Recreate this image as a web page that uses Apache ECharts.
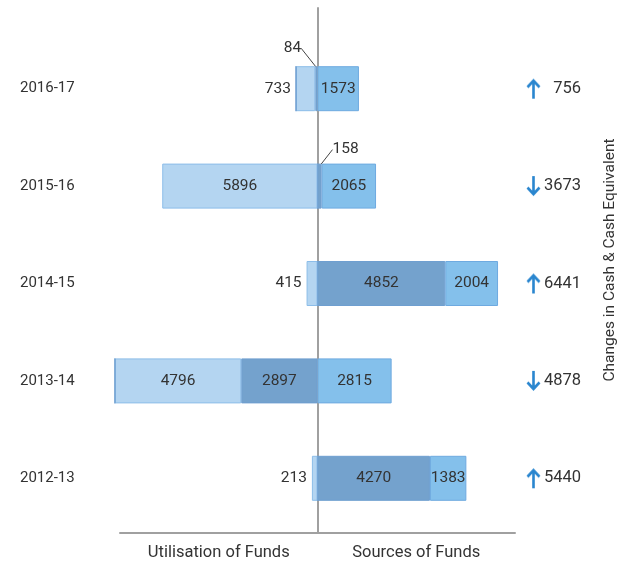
<!DOCTYPE html>
<html>
<head>
<meta charset="utf-8">
<script src="https://cdn.jsdelivr.net/npm/echarts@6/dist/echarts.min.js"></script>
<style>
  html, body { margin: 0; padding: 0; background: #fff; }
  #chart { width: 633px; height: 567px; }
</style>
</head>
<body>
<div id="chart"></div>
<script>
const years = ['2016-17', '2015-16', '2014-15', '2013-14', '2012-13']
// utilisation side (drawn to the left of the axis)
const utilInner = [84, 0, 0, 2897, 0]
const utilOuter = [733, 5896, 415, 4796, 213]
// sources side (drawn to the right)
const sourceInner = [0, 158, 4852, 0, 4270]
const sourceOuter = [1573, 2065, 2004, 2815, 1383]
const cashChange = [756, -3673, 6441, -4878, 5440]
const sideLabels = ['Utilisation of Funds', 'Sources of Funds']
const axisMax = 7500

const FONT = 'Roboto, sans-serif'
const TEXT = '#333'
const ARROW = '#2a86cf'
const LIGHT = { color: '#b4d5f1', borderColor: '#8cbde9', borderWidth: 1 }
const MEDIUM = { color: '#84c0eb', borderColor: '#6eaae0', borderWidth: 1 }
const DARK = { color: '#74a2cd', borderColor: '#6f9fd0', borderWidth: 1 }

// small stroked arrow used inside the right-hand labels
const makeArrow = (up) => {
  const c = document.createElement('canvas')
  c.width = 15
  c.height = 20
  const ctx = c.getContext('2d')
  if (!up) { ctx.translate(0, 20); ctx.scale(1, -1) }
  ctx.strokeStyle = ARROW
  ctx.lineWidth = 2.6
  ctx.beginPath()
  ctx.moveTo(7.5, 2)
  ctx.lineTo(7.5, 20)
  ctx.moveTo(1.5, 8.5)
  ctx.lineTo(7.5, 2)
  ctx.lineTo(13.5, 8.5)
  ctx.stroke()
  return c
}

// label placement depends on how wide the segment is
const toItems = (values, sign) => values.map(v => {
  const item = { value: sign * v }
  if (v === 0) {
    item.label = { show: false }
  } else if (v < 200) {
    item.label = { show: true, position: 'top', distance: 4 }
    item.labelLine = { show: true, lineStyle: { color: '#444', width: 1 } }
  } else if (v < 1000) {
    item.label = { show: true, position: sign < 0 ? 'left' : 'right', distance: 5 }
  }
  return item
})

const barLabel = {
  show: true,
  position: 'inside',
  color: TEXT,
  fontSize: 15.5,
  fontFamily: FONT,
  formatter: p => Math.abs(p.value)
}

const leaderShift = (data, dx, dy) => params => {
  const v = Math.abs(data[params.dataIndex])
  return v > 0 && v < 200 ? { dx, dy } : {}
}

const barSeries = (name, data, sign, style, layout) => ({
  name,
  type: 'bar',
  xAxisIndex: 1,
  yAxisIndex: 1,
  stack: 'funds',
  barWidth: 45,
  clip: false,
  itemStyle: style,
  label: barLabel,
  labelLayout: layout,
  data: toItems(data, sign)
})

const chart = echarts.init(document.getElementById('chart'))

const option = {
  animation: false,
  textStyle: { fontFamily: FONT },
  grid: [
    { left: 120, right: 118, top: 8, bottom: 34 },
    { left: 120, right: 118, top: 40, bottom: 40 }
  ],
  xAxis: [
    {
      gridIndex: 0,
      type: 'value',
      min: -axisMax,
      max: axisMax,
      axisLine: { show: true, lineStyle: { color: '#a0a0a0', width: 2 } },
      axisTick: { show: false },
      splitLine: { show: false },
      axisLabel: {
        customValues: [-axisMax / 2, axisMax / 2],
        formatter: v => (v < 0 ? sideLabels[0] : sideLabels[1]),
        color: TEXT,
        fontSize: 16.5,
        fontFamily: FONT,
        margin: 11
      }
    },
    {
      gridIndex: 1,
      type: 'value',
      min: -axisMax,
      max: axisMax,
      show: false
    }
  ],
  yAxis: [
    {
      gridIndex: 0,
      type: 'value',
      min: 0,
      max: 1,
      axisLine: { show: true, onZero: true, lineStyle: { color: '#a0a0a0', width: 2 } },
      axisTick: { show: false },
      axisLabel: { show: false },
      splitLine: { show: false }
    },
    {
      gridIndex: 1,
      type: 'category',
      data: years,
      inverse: true,
      axisLine: { show: false },
      axisTick: { show: false },
      axisLabel: {
        align: 'left',
        margin: 100,
        color: TEXT,
        fontSize: 15,
        fontFamily: FONT
      }
    },
    {
      gridIndex: 1,
      type: 'category',
      position: 'right',
      data: years,
      inverse: true,
      axisLine: { show: false },
      axisTick: { show: false },
      name: 'Changes in Cash & Cash Equivalent',
      nameLocation: 'middle',
      nameRotate: 90,
      nameGap: 87,
      nameTextStyle: { color: TEXT, fontSize: 15.5, fontFamily: FONT, padding: [0, 0, 0, 47] },
      axisLabel: {
        align: 'left',
        margin: 11,
        formatter: (val, idx) => {
          const c = cashChange[idx]
          return c >= 0 ? `{up| }{v|${c}}` : `{down| }{v|${-c}}`
        },
        rich: {
          up: { width: 15, height: 20, backgroundColor: { image: makeArrow(true) } },
          down: { width: 15, height: 20, backgroundColor: { image: makeArrow(false) } },
          v: { color: TEXT, fontSize: 16.5, fontFamily: FONT, width: 40, align: 'right' }
        }
      }
    }
  ],
  series: [
    barSeries('utilInner', utilInner, -1, DARK, leaderShift(utilInner, -24, -6)),
    barSeries('utilOuter', utilOuter, -1, LIGHT),
    barSeries('sourceInner', sourceInner, 1, DARK, leaderShift(sourceInner, 26, -2)),
    barSeries('sourceOuter', sourceOuter, 1, MEDIUM)
  ]
}

chart.setOption(option)
</script>
</body>
</html>
